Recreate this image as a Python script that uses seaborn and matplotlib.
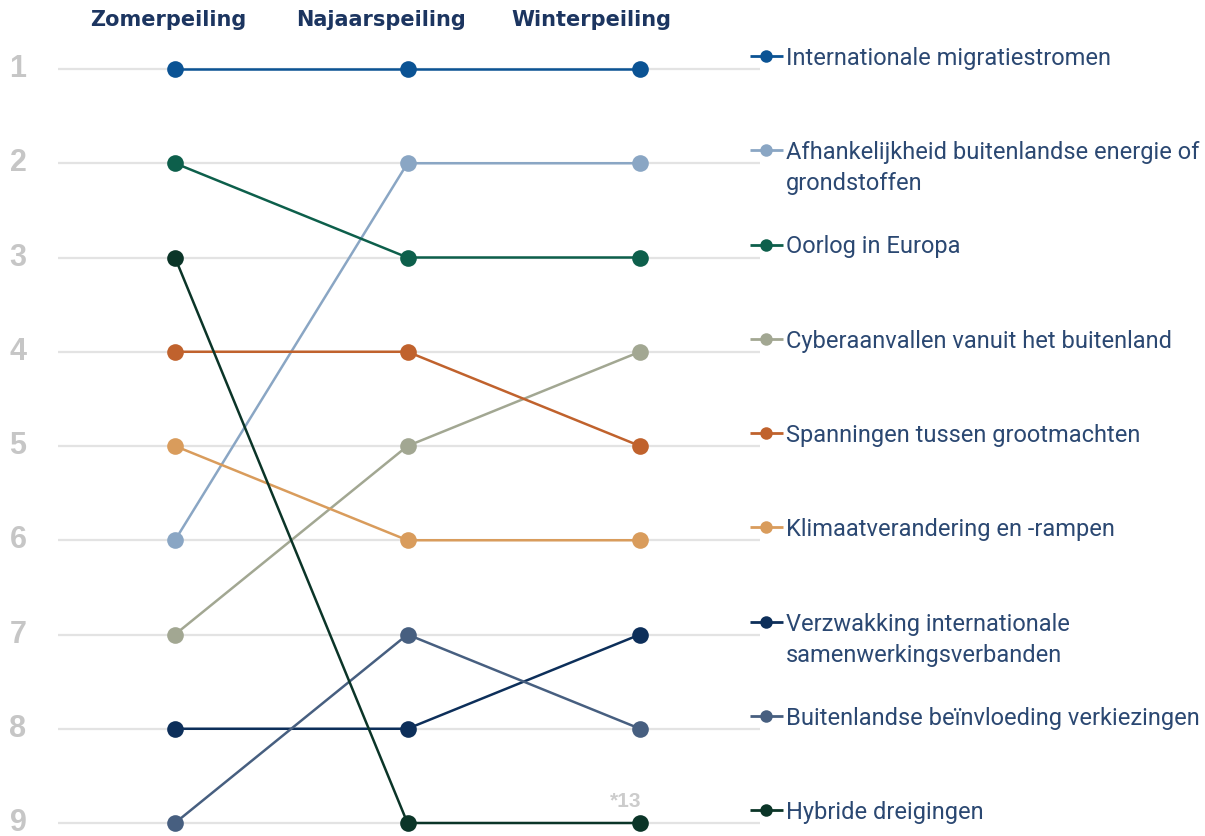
import matplotlib
matplotlib.use("Agg")
import matplotlib.pyplot as plt
import seaborn as sns
import pandas as pd

# ---------------- data ----------------
periods = ["Zomerpeiling", "Najaarspeiling", "Winterpeiling"]
labels = [
    "Internationale migratiestromen",
    "Afhankelijkheid buitenlandse energie of\ngrondstoffen",
    "Oorlog in Europa",
    "Cyberaanvallen vanuit het buitenland",
    "Spanningen tussen grootmachten",
    "Klimaatverandering en -rampen",
    "Verzwakking internationale\nsamenwerkingsverbanden",
    "Buitenlandse beïnvloeding verkiezingen",
    "Hybride dreigingen",
]
zomer = [1, 6, 2, 7, 4, 5, 8, 9, 3]
najaar = [1, 2, 3, 5, 4, 6, 8, 7, 9]
winter_actual = [1, 2, 3, 4, 5, 6, 7, 8, 13]
rank_ticks = [1, 2, 3, 4, 5, 6, 7, 8, 9]
max_rank_shown = 9
colors = ["#0b5394", "#8aa6c4", "#0d5f4b", "#a2a792", "#c0622d",
          "#d99c5c", "#0d2f5a", "#475f80", "#0b3528"]

# ---------------- frame ----------------
rows = []
for i, lab in enumerate(labels):
    for k, v in enumerate([zomer[i], najaar[i], winter_actual[i]]):
        rows.append({"item": lab, "period": k,
                     "rank": min(v, max_rank_shown), "actual": v})
df = pd.DataFrame(rows)

sns.set_style("white")
plt.rcParams["font.family"] = ["Liberation Sans", "DejaVu Sans"]

fig = plt.figure(figsize=(12.05, 8.36), dpi=100)
ax = fig.add_axes([0, 0, 1, 1])
W, H = 1205, 836
x0px, dxpx = 175, 232.5
y0px, dypx = 69, 94.25

def px_x(p):
    return (p - x0px) / dxpx

def px_dy(p):
    return p / dypx

# gridlines
ax.hlines(rank_ticks, px_x(58), px_x(760), color="#e3e3e3", lw=1.6, zorder=0)

# rank labels
for r in rank_ticks:
    ax.text(px_x(18), r, str(r), ha="center", va="center",
            fontsize=22, fontweight="bold", color="#c6c6c6")

# headers (layout: pixel centres of the column titles)
header_px = [168, 381, 591]
for p, hx in zip(periods, header_px):
    ax.text(px_x(hx), 1 - px_dy(49), p, ha="center", va="center",
            fontsize=15, fontweight="bold", color="#1c3560", family="DejaVu Sans")

# lines
pal = dict(zip(labels, colors))
sns.lineplot(data=df, x="period", y="rank", hue="item", palette=pal,
             hue_order=labels, marker="o", markersize=12, markeredgewidth=0,
             linewidth=1.8, legend=False, ax=ax, sort=False)
ax.set_xlim(px_x(0), px_x(W))
ax.set_ylim(1 + px_dy(H - y0px), 1 - px_dy(y0px))
ax.axis("off")

# "*13" note
for i, lab in enumerate(labels):
    if winter_actual[i] > max_rank_shown:
        ax.text(2 - 14 / dxpx, max_rank_shown - px_dy(22), f"*{winter_actual[i]}",
                ha="center", va="center", fontsize=15, fontweight="bold",
                color="#cccccc")

# legend (ordered by winter rank)
leg_font = "Roboto"
txt_color = "#2b4872"
order = sorted(range(len(labels)), key=lambda i: min(winter_actual[i], max_rank_shown))
for pos, i in enumerate(order, start=1):
    yk = pos - px_dy(13)
    ax.plot([px_x(750), px_x(783)], [yk, yk], color=colors[i], lw=2,
            solid_capstyle="butt")
    ax.plot([px_x(766)], [yk], marker="o", markersize=9, color=colors[i],
            markeredgewidth=0)
    for j, line in enumerate(labels[i].split("\n")):
        ax.text(px_x(786), yk + px_dy(31) * j, line, ha="left",
                va="center_baseline", fontsize=17, family=leg_font,
                fontweight="normal", color=txt_color)

fig.savefig("out.png", dpi=100)
